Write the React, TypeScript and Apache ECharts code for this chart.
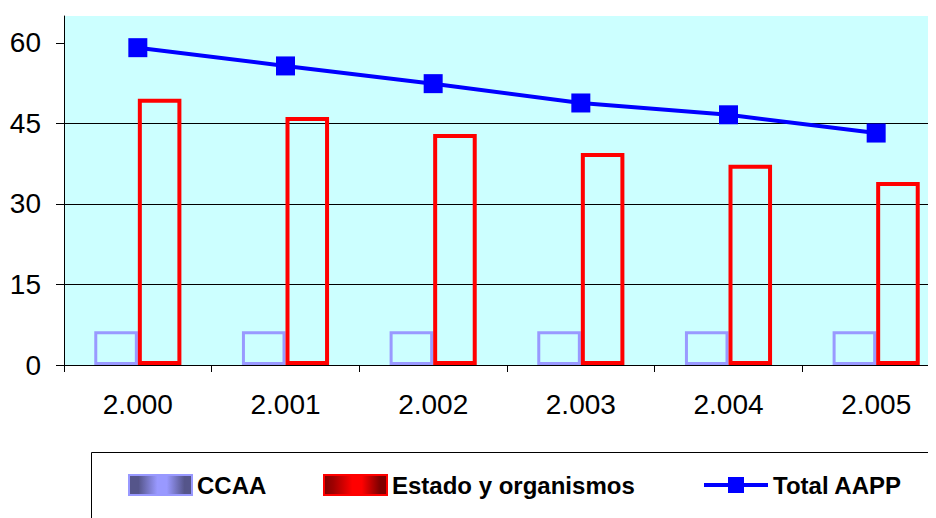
import React, { useEffect, useRef } from "react";
import * as echarts from "echarts";

const categories = ["2.000", "2.001", "2.002", "2.003", "2.004", "2.005"];
const ccaa = [6.3, 6.3, 6.3, 6.3, 6.3, 6.3];
const estado = [49.6, 46.2, 43.0, 39.5, 37.3, 34.1];
const total = [59.1, 55.7, 52.4, 48.8, 46.6, 43.2];
const yTicks = [0, 15, 30, 45, 60];

const FONT = "'Liberation Sans', Arial, sans-serif";

export default function App() {
  const ref = useRef<HTMLDivElement>(null);
  useEffect(() => {
    if (!ref.current) return;
    const chart = echarts.init(ref.current, null, { renderer: "svg" });
    const ccaaGrad = new echarts.graphic.LinearGradient(0, 0, 1, 0, [
      { offset: 0, color: "#55558A" },
      { offset: 0.15, color: "#55558A" },
      { offset: 0.45, color: "#9999FF" },
      { offset: 0.6, color: "#9999FF" },
      { offset: 0.88, color: "#55558A" },
      { offset: 1, color: "#55558A" },
    ]);
    const estGrad = new echarts.graphic.LinearGradient(0, 0, 1, 0, [
      { offset: 0, color: "#800000" },
      { offset: 0.15, color: "#A00000" },
      { offset: 0.45, color: "#FF0000" },
      { offset: 0.6, color: "#FF0000" },
      { offset: 0.88, color: "#800000" },
      { offset: 1, color: "#800000" },
    ]);
    const legendText = {
      fontFamily: FONT,
      fontWeight: "bold" as const,
      fontSize: 24,
      color: "#000",
    };
    chart.setOption({
      animation: false,
      textStyle: { fontFamily: FONT },
      grid: {
        left: 64,
        top: 16,
        right: 0,
        bottom: 153,
        show: true,
        backgroundColor: "#CCFFFF",
        borderWidth: 0,
      },
      graphic: [
        {
          type: "rect",
          left: 91,
          top: 452,
          shape: { width: 900, height: 100 },
          style: { fill: "#fff", stroke: "#000", lineWidth: 1 },
          z: 0,
        },
      ],
      legend: [
        {
          left: 123,
          top: 468,
          itemWidth: 63,
          itemHeight: 20,
          icon: "rect",
          textStyle: legendText,
          data: [{ name: "CCAA", itemStyle: { color: ccaaGrad, borderColor: "#9999FF", borderWidth: 2 } }],
        },
        {
          left: 318,
          top: 468,
          itemWidth: 63,
          itemHeight: 20,
          icon: "rect",
          textStyle: legendText,
          data: [{ name: "Estado y organismos", itemStyle: { color: estGrad, borderColor: "#FF0000", borderWidth: 2 } }],
        },
        {
          left: 697,
          top: 468,
          itemWidth: 64,
          itemHeight: 20,
          textStyle: legendText,
          lineStyle: { width: 4 },
          data: [{ name: "Total AAPP", lineStyle: { width: 4, color: "#0000FF" } }],
        },
      ],
      xAxis: {
        type: "category",
        data: categories,
        boundaryGap: true,
        axisLine: { lineStyle: { color: "#000", width: 1 } },
        axisTick: { show: true, length: 7, lineStyle: { color: "#000" } },
        axisLabel: { color: "#000", fontSize: 28, margin: 25, fontFamily: FONT },
      },
      yAxis: {
        type: "value",
        min: 0,
        max: 65,
        interval: 15,
        axisLine: { show: true, lineStyle: { color: "#000", width: 1 } },
        axisTick: { show: true, length: 8, lineStyle: { color: "#000" }, customValues: yTicks },
        axisLabel: { color: "#000", fontSize: 28, margin: 23, fontFamily: FONT, customValues: yTicks },
        splitLine: { show: true, showMaxLine: false, lineStyle: { color: "#000", width: 1 } },
      },
      series: [
        {
          name: "CCAA",
          type: "bar",
          data: ccaa,
          barGap: "0%",
          barCategoryGap: "41%",
          itemStyle: { color: "transparent", borderColor: "#9999FF", borderWidth: 3 },
          z: 2,
        },
        {
          name: "Estado y organismos",
          type: "bar",
          data: estado,
          itemStyle: { color: "transparent", borderColor: "#FF0000", borderWidth: 4 },
          z: 3,
        },
        {
          name: "Total AAPP",
          type: "line",
          data: total,
          symbol: "rect",
          symbolSize: 19,
          lineStyle: { color: "#0000FF", width: 4 },
          itemStyle: { color: "#0000FF" },
          z: 5,
        },
      ],
    });
    return () => chart.dispose();
  }, []);
  return (
    <div style={{ width: 936, height: 518, marginLeft: -8, marginTop: -8, overflow: "hidden" }}>
      <div ref={ref} style={{ width: 950, height: 518 }} />
    </div>
  );
}
